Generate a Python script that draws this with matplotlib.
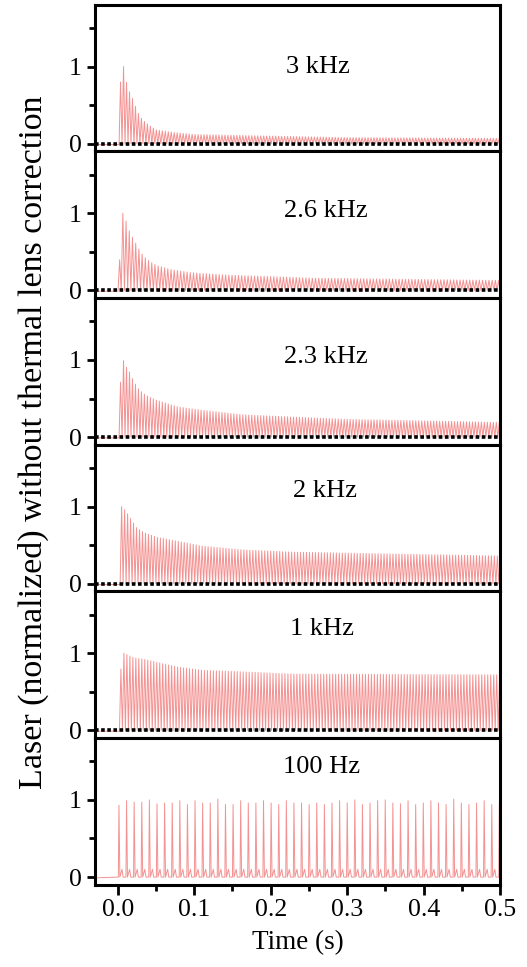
import numpy as np
import matplotlib
matplotlib.use("Agg")
import matplotlib.pyplot as plt
from matplotlib.ticker import MultipleLocator

# panel labels (top to bottom)
labels = ["3 kHz", "2.6 kHz", "2.3 kHz", "2 kHz", "1 kHz", "100 Hz"]
label_y = [1.0, 1.03, 1.04, 1.2, 1.32, 1.42]
label_x = [0.262, 0.272, 0.272, 0.271, 0.267, 0.266]

# peak envelopes (time in s, normalized peak)
env_3k_t = [0.003, 0.0075, 0.011, 0.015, 0.020, 0.024, 0.028, 0.0325, 0.037, 0.041, 0.050, 0.074, 0.10, 0.20, 0.30, 0.50]
env_3k_h = [0.77, 1.00, 0.81, 0.68, 0.57, 0.46, 0.37, 0.31, 0.27, 0.24, 0.18, 0.145, 0.12, 0.10, 0.08, 0.07]

env_26k_t = [0.0013, 0.0066, 0.0096, 0.0136, 0.018, 0.022, 0.026, 0.031, 0.035, 0.044, 0.052, 0.070, 0.096, 0.140, 0.228, 0.25, 0.50]
env_26k_h = [0.24, 1.00, 0.94, 0.80, 0.71, 0.64, 0.56, 0.48, 0.43, 0.36, 0.32, 0.27, 0.23, 0.20, 0.17, 0.16, 0.13]

env_23k_t = [0.003, 0.0075, 0.011, 0.015, 0.020, 0.024, 0.028, 0.037, 0.050, 0.079, 0.109, 0.162, 0.228, 0.30, 0.50]
env_23k_h = [0.67, 0.99, 0.91, 0.85, 0.74, 0.67, 0.61, 0.54, 0.48, 0.39, 0.35, 0.29, 0.26, 0.23, 0.19]

env_2k_t = [0.005, 0.008, 0.012, 0.017, 0.025, 0.035, 0.052, 0.079, 0.109, 0.162, 0.228, 0.50]
env_2k_h = [1.00, 0.97, 0.92, 0.84, 0.72, 0.66, 0.60, 0.55, 0.49, 0.44, 0.41, 0.36]

env_1k_t = [0.004, 0.008, 0.021, 0.035, 0.052, 0.079, 0.109, 0.162, 0.228, 0.50]
env_1k_h = [0.79, 1.00, 0.94, 0.92, 0.88, 0.82, 0.78, 0.76, 0.73, 0.72]

envelopes = [(env_3k_t, env_3k_h), (env_26k_t, env_26k_h), (env_23k_t, env_23k_h),
             (env_2k_t, env_2k_h), (env_1k_t, env_1k_h)]
# apparent spike spacing of the sampled traces
spike_period = [0.0039, 0.0042, 0.0039, 0.0039, 0.0039]

# 100 Hz: individual pulse heights
pulse_100_t0 = 0.0015
pulse_100_dt = 0.00995
pulse_100_h = [0.93, 0.99, 0.97, 0.97, 1.00, 0.95, 0.96, 0.96, 0.99, 0.94,
               0.99, 0.96, 0.96, 1.01, 0.94, 0.94, 0.99, 0.96, 0.96, 0.99,
               0.96, 0.94, 0.99, 0.96, 0.96, 0.94, 0.96, 0.94, 0.96, 0.99,
               0.96, 1.00, 0.94, 0.96, 0.99, 1.00, 0.96, 0.95, 0.99, 0.94,
               0.96, 0.99, 0.96, 0.94, 1.01, 0.96, 0.94, 0.96, 0.99, 0.94,
               0.96]
bump_100_h = 0.10

red = "#f27f7f"

plt.rcParams["font.family"] = ["Liberation Serif", "DejaVu Serif"]

fig, axes = plt.subplots(6, 1, figsize=(5.27, 9.67), dpi=100, sharex=True)
fig.subplots_adjust(left=0.18, right=0.949, top=0.995, bottom=0.085, hspace=0)

for i, ax in enumerate(axes):
    if i < 5:
        et, eh = envelopes[i]
        p = spike_period[i]
        # put the sampling grid through the highest read peak
        t_pk = et[int(np.argmax(eh))]
        start = t_pk - np.floor((t_pk - et[0]) / p) * p
        tk = np.arange(start, 0.5 + p, p)
        pk = np.interp(tk, et, eh)
        xs = [-0.03, tk[0] - p / 2]
        ys = [-0.01, -0.01]
        for t, h in zip(tk, pk):
            xs += [t, t + p / 2]
            ys += [h, 0.0]
        ax.plot(xs, ys, color=red, lw=0.7, alpha=0.85, zorder=2)
        ax.axhline(0, color="black", lw=2.6, ls=(0, (1.0, 0.7)), zorder=3)
    else:
        xs = [-0.03]
        ys = [-0.01]
        for k, h in enumerate(pulse_100_h):
            t = pulse_100_t0 + k * pulse_100_dt
            xs += [t - 0.0008, t, t + 0.0012, t + 0.004, t + 0.0055]
            ys += [0.0, h, 0.0, bump_100_h, 0.0]
        ax.plot(xs, ys, color=red, lw=0.7, alpha=0.85, zorder=2)

    ax.text(label_x[i], label_y[i], labels[i], ha="center", va="center", fontsize=19)
    ax.set_xlim(-0.03, 0.5)
    ax.set_ylim(-0.1, 1.8)
    ax.set_yticks([0, 1])
    ax.yaxis.set_minor_locator(MultipleLocator(0.5))
    ax.xaxis.set_major_locator(MultipleLocator(0.1))
    ax.xaxis.set_minor_locator(MultipleLocator(0.05))
    for s in ax.spines.values():
        s.set_linewidth(2.2)
    ax.tick_params(axis="y", which="major", direction="out", length=6, width=2, labelsize=18.5)
    ax.tick_params(axis="y", which="minor", direction="out", length=4, width=2)
    ax.tick_params(axis="x", which="major", direction="out", length=7, width=2, labelsize=18.5)
    ax.tick_params(axis="x", which="minor", direction="out", length=4, width=2)
    if i < 5:
        ax.tick_params(axis="x", which="both", bottom=False, labelbottom=False)

axes[-1].xaxis.set_major_formatter(matplotlib.ticker.FormatStrFormatter("%.1f"))
axes[-1].set_xlabel("Time (s)", fontsize=19.5, labelpad=6)
fig.text(0.063, 0.543, "Laser (normalized) without thermal lens correction",
         rotation=90, ha="center", va="center", fontsize=24.5)

plt.savefig("out.png", dpi=100)
